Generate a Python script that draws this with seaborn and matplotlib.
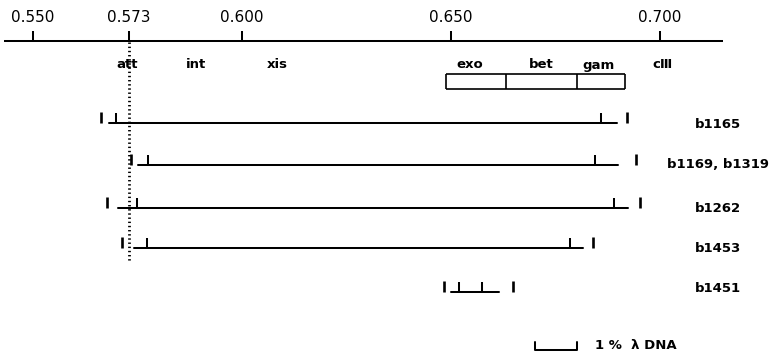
import matplotlib
matplotlib.use("Agg")
import matplotlib.pyplot as plt
import seaborn as sns
import pandas as pd

# ---------------- data (map position, fraction of lambda DNA) ----------------
axis_ticks = [0.550, 0.573, 0.600, 0.650, 0.700]
axis_tick_labels = ["0.550", "0.573", "0.600", "0.650", "0.700"]
axis_span = [0.5430, 0.7151]

att_pos = 0.573
top_genes = ["att", "int", "xis"]
top_gene_pos = [0.5726, 0.5890, 0.6086]

box_genes = ["exo", "bet", "gam"]
box_bounds = [0.6488, 0.6632, 0.6802, 0.6917]
box_label_pos = [0.6546, 0.6716, 0.6853]
ciii_label = "c\u2162"
ciii_pos = 0.7006

deletions = ["b1165", "b1169, b1319", "b1262", "b1453", "b1451"]
left_mark = [0.5662, 0.5734, 0.5676, 0.5713, 0.6485]
line_start = [0.5682, 0.5751, 0.5703, 0.5742, 0.6500]
left_tick = [0.5699, 0.5775, 0.5750, 0.5772, 0.6521]
right_tick = [0.6861, 0.6845, 0.6891, 0.6786, 0.6574]
line_end = [0.6898, 0.6900, 0.6924, 0.6816, 0.6616]
right_mark = [0.6921, 0.6944, 0.6953, 0.6841, 0.6650]

scale_start = 0.6702
scale_len = 0.01
scale_label = "1 %  \u03bb DNA"

# ---------------- layout (pixel rows, y down) ----------------
row_y = [123, 165, 207.5, 247.5, 292]
label_y = [125, 165, 208, 248, 288]
label_x = 0.7140

sns.set_theme(style="white")
plt.rcParams["font.family"] = ["DejaVu Sans"]

fig = plt.figure(figsize=(7.74, 3.54), dpi=100)
ax = fig.add_axes([0, 0, 1, 1])

lw = 1.45
k = "black"

# deletion lines via seaborn
rows = []
for name, s, e, y in zip(deletions, line_start, line_end, row_y):
    rows.append({"name": name, "pos": s, "y": y})
    rows.append({"name": name, "pos": e, "y": y})
df = pd.DataFrame(rows)
sns.lineplot(data=df, x="pos", y="y", units="name", estimator=None,
             color=k, lw=lw, ax=ax, legend=False)
ax.set_xlim(0.5421, 0.7274)
ax.set_ylim(354, 0)
ax.axis("off")

# top map axis
ax.hlines(40.7, axis_span[0], axis_span[1], color=k, lw=lw)
ax.vlines(axis_ticks, 30.5, 40.7, color=k, lw=lw)
for t, lab in zip(axis_ticks, axis_tick_labels):
    ax.text(t, 17.5, lab, ha="center", va="center", fontsize=11, color=k)

# att dotted line
ax.vlines(att_pos, 42, 261, color=k, lw=2.0, linestyles=(0, (0.5, 1.0)))

# gene labels
for g, p in zip(top_genes, top_gene_pos):
    ax.text(p, 65, g, ha="center", va="center", fontsize=9.5,
            fontweight="bold", color=k)
for g, p in zip(box_genes, box_label_pos):
    ax.text(p, 65, g, ha="center", va="center", fontsize=9.5,
            fontweight="bold", color=k)
ax.text(ciii_pos, 64, ciii_label, ha="center", va="center", fontsize=9.5,
        fontweight="bold", color=k)

# gene boxes
ax.hlines([74.3, 89.3], box_bounds[0], box_bounds[-1], color=k, lw=1.2)
ax.vlines(box_bounds, 74.3, 89.3, color=k, lw=1.2)

for i, y in enumerate(row_y):
    ax.vlines([left_tick[i], right_tick[i]], y - 10, y, color=k, lw=lw)
    ax.vlines([left_mark[i], right_mark[i]], y - 11, y, color=k, lw=1.9)
    ax.text(label_x, label_y[i], deletions[i], ha="center", va="center",
            fontsize=9.5, fontweight="bold", color=k)

# extra tick in b1451
ax.vlines(0.6574, row_y[4] - 10, row_y[4], color=k, lw=lw)

# scale bar
ax.plot([scale_start, scale_start, scale_start + scale_len, scale_start + scale_len],
        [341.5, 350, 350, 341.5], color=k, lw=lw)
ax.text(0.6845, 345.5, scale_label, ha="left", va="center", fontsize=9.5,
        fontweight="bold", color=k)

fig.savefig("out.png", dpi=100)
